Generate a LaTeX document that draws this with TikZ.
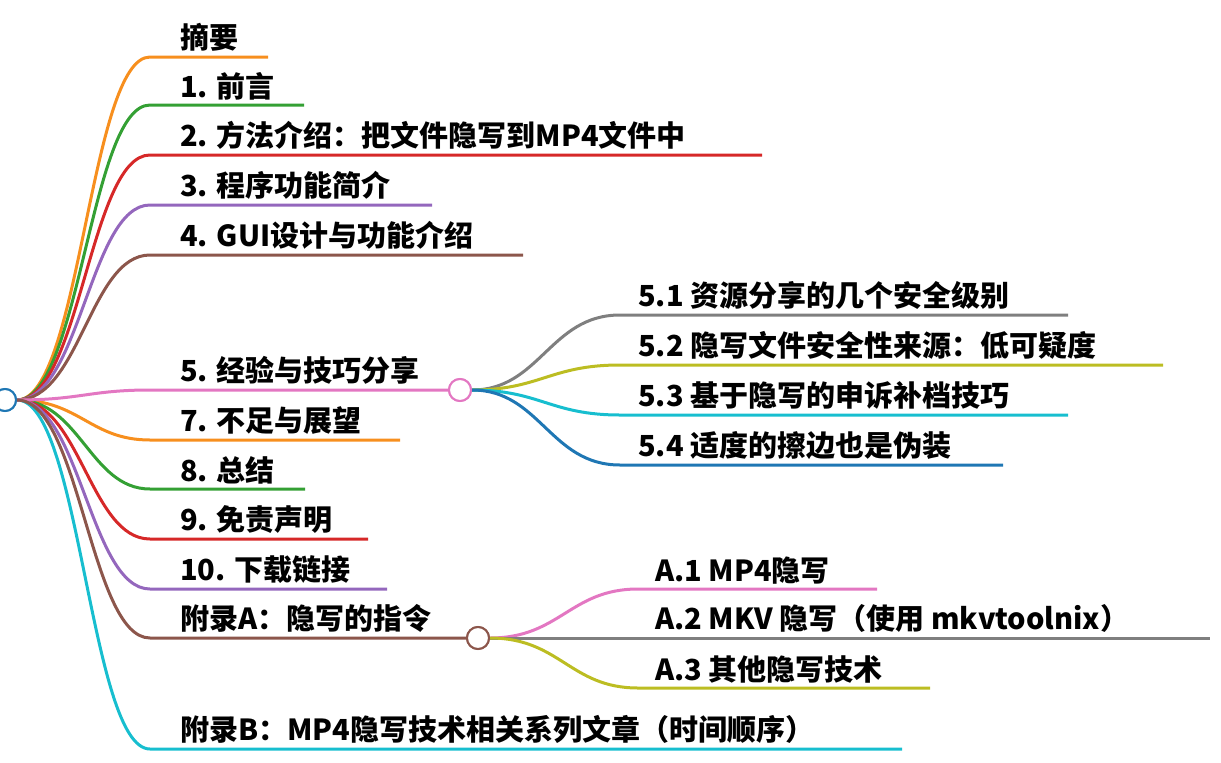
\documentclass[tikz,border=0pt]{standalone}
\usepackage{fontspec}
\setmainfont{Noto Sans CJK SC}
\definecolor{morange}{RGB}{247,143,30}
\definecolor{mgreen}{RGB}{52,160,52}
\definecolor{mred}{RGB}{214,40,40}
\definecolor{mpurple}{RGB}{148,103,189}
\definecolor{mbrown}{RGB}{140,86,75}
\definecolor{mpink}{RGB}{227,119,194}
\definecolor{mgray}{RGB}{127,127,127}
\definecolor{molive}{RGB}{188,189,34}
\definecolor{mcyan}{RGB}{23,190,207}
\definecolor{mblue}{RGB}{31,119,180}
\tikzstyle{topic}=[anchor=south west,inner sep=0pt,font=\bfseries\fontsize{29}{31}\selectfont]
\tikzstyle{hub}=[circle,fill=white,line width=2pt,minimum size=22pt,inner sep=0pt]
\tikzstyle{branch}=[line width=3pt]
\begin{document}
\begin{tikzpicture}[x=1pt,y=-1pt]
  \useasboundingbox (0,0) rectangle (1221,763);
  % root and hubs
  \node[hub,draw=mblue] (root) at (5,400) {};
  \node[hub,draw=mpink] (h5) at (460,390) {};
  \node[hub,draw=mbrown] (hA) at (478,638) {};

  % first level
  \foreach \y/\e/\c/\t [count=\i] in {
      57/268/morange/摘要,
      105/304/mgreen/1. 前言,
      155/762/mred/2. 方法介绍：把文件隐写到MP4文件中,
      205/432/mpurple/3. 程序功能简介,
      255/523/mbrown/4. GUI设计与功能介绍,
      440/400/morange/7. 不足与展望,
      489/305/mgreen/8. 总结,
      539/368/mred/9. 免责声明,
      589/387/mpurple/10. 下载链接,
      749/902/mcyan/附录B：MP4隐写技术相关系列文章（时间顺序）} {
    \coordinate (s\i) at (150,\y);
    \coordinate (e\i) at (\e,\y);
    \node[topic] (t\i) at (180,\y-5) {\t};
    \draw[branch,\c] (root.east) .. controls (80,400) and (90,\y) .. (s\i) -- (e\i);
  }
  \node[topic] (t5) at (180,385) {5. 经验与技巧分享};
  \coordinate (s5) at (150,390);
  \draw[branch,mpink] (root.east) .. controls (80,400) and (90,390) .. (s5) -- (h5.west);
  \node[topic] (tA) at (180,633) {附录A：隐写的指令};
  \coordinate (sA) at (150,638);
  \draw[branch,mbrown] (root.east) .. controls (80,400) and (90,638) .. (sA) -- (hA.west);

  % second level, 5
  \foreach \y/\e/\c/\t [count=\i] in {
      315/1068/mgray/5.1 资源分享的几个安全级别,
      365/1163/molive/5.2 隐写文件安全性来源：低可疑度,
      415/1068/mcyan/5.3 基于隐写的申诉补档技巧,
      465/1003/mblue/5.4 适度的擦边也是伪装} {
    \coordinate (u\i) at (620,\y);
    \node[topic] (v\i) at (638,\y-5) {\t};
    \draw[branch,\c] (h5.east) .. controls (540,390) and (550,\y) .. (u\i) -- (\e,\y);
  }
  % second level, A
  \foreach \y/\e/\c/\t [count=\i] in {
      589/877/mpink/A.1 MP4隐写,
      638/1210/mgray/A.2 MKV 隐写（使用 mkvtoolnix）,
      688/930/molive/A.3 其他隐写技术} {
    \coordinate (a\i) at (638,\y);
    \node[topic] (b\i) at (655,\y-5) {\t};
    \draw[branch,\c] (hA.east) .. controls (560,638) and (570,\y) .. (a\i) -- (\e,\y);
  }
  \node[hub,draw=mblue] at (root) {};
  \node[hub,draw=mpink] at (h5) {};
  \node[hub,draw=mbrown] at (hA) {};
\end{tikzpicture}
\end{document}
